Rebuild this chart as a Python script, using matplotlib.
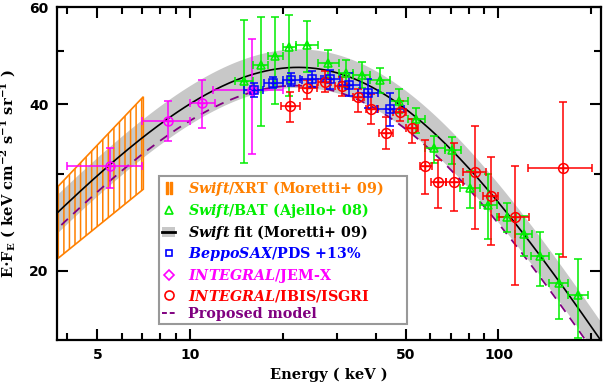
import numpy as np
import matplotlib
matplotlib.use('Agg')
import matplotlib.pyplot as plt
from matplotlib.lines import Line2D
from matplotlib.patches import Patch, Polygon

plt.rcParams['mathtext.fontset'] = 'custom'
plt.rcParams['mathtext.rm'] = 'DejaVu Serif:bold'
plt.rcParams['mathtext.it'] = 'DejaVu Serif:italic:bold'
plt.rcParams['mathtext.bf'] = 'DejaVu Serif:bold'
plt.rcParams['hatch.linewidth'] = 1.1

# INTEGRAL / JEM-X
jem_e = [5.5, 8.5, 10.9, 15.9]
jem_e_lo = [4.0, 7.0, 10.0, 11.9]
jem_e_hi = [7.0, 10.0, 12.0, 20.0]
jem_f = [30.9, 37.4, 40.2, 42.5]
jem_f_lo = [28.3, 34.3, 36.3, 32.6]
jem_f_hi = [33.4, 40.5, 44.2, 52.5]

# BeppoSAX / PDS (+13%)
pds_e = [16.1, 18.6, 21.3, 24.8, 28.5, 32.8, 37.8, 44.6]
pds_e_lo = [15.0, 17.3, 20.0, 22.7, 26.5, 30.4, 35.0, 40.4]
pds_e_hi = [17.2, 20.0, 23.0, 26.9, 30.7, 35.5, 40.7, 49.3]
pds_f = [42.5, 43.7, 44.3, 44.5, 44.5, 43.4, 42.0, 39.3]
pds_f_lo = [41.3, 42.8, 43.1, 43.0, 42.7, 41.4, 39.4, 36.5]
pds_f_hi = [43.7, 44.8, 45.6, 45.9, 46.2, 45.5, 44.5, 42.0]

# Swift / BAT
bat_e = [15.0, 17.0, 18.9, 21.0, 24.0, 28.0, 32.1, 36.0, 41.2, 47.6,
         54.2, 61.9, 70.7, 81.0, 92.6, 106.4, 120.8, 136.7, 156.7, 180.6]
bat_e_lo = [14.0, 16.0, 17.9, 20.0, 22.0, 26.0, 30.4, 33.8, 38.2, 44.5,
            50.9, 57.6, 66.9, 75.2, 86.8, 98.7, 113.5, 127.6, 146.2, 167.6]
bat_e_hi = [16.0, 17.9, 20.0, 22.0, 26.0, 30.4, 33.8, 38.2, 44.6, 50.9,
            57.6, 66.9, 75.8, 87.3, 98.7, 114.1, 128.5, 146.2, 167.6, 194.5]
bat_f = [44.1, 47.1, 49.0, 50.8, 51.3, 47.5, 45.6, 45.3, 44.3, 40.5,
         37.6, 33.4, 33.1, 28.2, 26.3, 25.0, 23.3, 21.3, 19.0, 18.1]
bat_f_lo = [31.3, 36.5, 40.1, 41.4, 45.7, 44.6, 43.0, 42.8, 42.0, 38.6,
            35.5, 31.4, 31.2, 26.0, 22.8, 23.5, 21.3, 18.8, 16.4, 15.1]
bat_f_hi = [56.9, 57.5, 57.5, 58.0, 56.5, 50.2, 48.2, 47.8, 46.5, 42.7,
            39.4, 35.0, 34.9, 30.3, 29.9, 26.5, 25.1, 23.5, 21.5, 21.0]

# INTEGRAL / IBIS / ISGRI
isg_e = [21.1, 24.0, 27.3, 31.0, 35.1, 38.7, 43.1, 47.8, 52.5, 57.8,
         63.6, 71.7, 83.6, 94.7, 112.7, 162.3]
isg_e_lo = [19.7, 22.6, 25.9, 29.5, 33.7, 37.1, 41.0, 45.5, 50.3, 55.5,
            60.6, 67.7, 76.7, 89.0, 100.2, 124.4]
isg_e_hi = [22.7, 25.7, 28.7, 32.5, 36.7, 40.7, 45.5, 50.0, 54.8, 61.0,
            67.4, 76.7, 91.2, 99.5, 126.0, 201.0]
isg_f = [39.7, 42.8, 43.9, 43.1, 41.2, 39.3, 35.5, 38.7, 36.3, 31.0,
         29.0, 29.0, 30.2, 27.3, 25.0, 30.7]
isg_f_lo = [37.1, 40.9, 42.2, 41.5, 38.8, 36.8, 33.2, 37.3, 34.0, 27.5,
            26.0, 25.7, 23.8, 22.3, 18.9, 21.2]
isg_f_hi = [42.2, 44.3, 45.9, 44.8, 42.7, 41.7, 38.0, 40.5, 37.6, 34.5,
            31.8, 34.1, 36.5, 32.1, 30.9, 40.4]

# Swift / XRT bow-tie
xrt_e = [3.7, 7.05]
xrt_lo = [21.0, 28.1]
xrt_hi = [28.3, 41.3]

# Swift fit (Moretti+ 09) and proposed model, smoothly broken power law
fit_norm, fit_eb, fit_g1, fit_g2 = 0.109, 29.0, 1.40, 2.88
fit_band = 0.08
prop_norm, prop_eb = 0.1046, 28.5

ORANGE = '#ff8000'
GREEN = '#00ee00'
BLUE = '#0000ff'
MAGENTA = '#ff00ff'
RED = '#ff0000'
PURPLE = '#800080'
GRAY = '#c8c8c8'


def cxb(e, norm, eb, g1, g2):
    return e ** 2 * norm / ((e / eb) ** g1 + (e / eb) ** g2)


def points(ax, e, elo, ehi, f, flo, fhi, color, marker, ms):
    e = np.array(e); f = np.array(f)
    xerr = [e - np.array(elo), np.array(ehi) - e]
    yerr = [f - np.array(flo), np.array(fhi) - f]
    ax.errorbar(e, f, xerr=xerr, yerr=yerr, fmt=marker, ms=ms, mfc='none',
                mec=color, mew=1.1, color=color, elinewidth=1.1,
                capsize=2.6, capthick=1.1, zorder=5)
    # small cross inside the marker, like the original
    ax.plot(e, f, ls='none', marker='+', ms=ms * 0.9, mew=1.0, color=color, zorder=6)


def main():
    fig = plt.figure(figsize=(6.03, 3.87), dpi=100)
    ax = fig.add_axes([0.0945, 0.1214, 0.9022, 0.8605])
    ax.set_xscale('log')
    ax.set_yscale('log')

    en = np.logspace(np.log10(3.5), np.log10(230), 300)
    fit = cxb(en, fit_norm, fit_eb, fit_g1, fit_g2)
    prop = cxb(en, prop_norm, prop_eb, fit_g1, fit_g2)

    ax.fill_between(en, fit * (1 - fit_band), fit * (1 + fit_band),
                    color=GRAY, lw=0, zorder=1)

    verts = [(xrt_e[0], xrt_lo[0]), (xrt_e[1], xrt_lo[1]),
             (xrt_e[1], xrt_hi[1]), (xrt_e[0], xrt_hi[0])]
    ax.add_patch(Polygon(verts, closed=True, facecolor='none', edgecolor=ORANGE,
                         hatch='|||', lw=1.2, zorder=2))

    ax.plot(en, fit, color='black', lw=1.2, zorder=3)
    ax.plot(en, prop, color=PURPLE, lw=1.3, dashes=(5, 4), zorder=3)

    points(ax, jem_e, jem_e_lo, jem_e_hi, jem_f, jem_f_lo, jem_f_hi, MAGENTA, 'o', 6.5)
    points(ax, bat_e, bat_e_lo, bat_e_hi, bat_f, bat_f_lo, bat_f_hi, GREEN, '^', 6)
    points(ax, isg_e, isg_e_lo, isg_e_hi, isg_f, isg_f_lo, isg_f_hi, RED, 'o', 7)
    points(ax, pds_e, pds_e_lo, pds_e_hi, pds_f, pds_f_lo, pds_f_hi, BLUE, 's', 5.5)

    ax.set_xlim(3.7, 215)
    ax.set_ylim(15, 60)

    ax.set_xticks([5, 10, 50, 100])
    ax.set_xticklabels(['5', '10', '50', '100'])
    ax.set_xticks([4, 6, 7, 8, 9, 20, 30, 40, 60, 70, 80, 90, 200], minor=True)
    ax.set_yticks([20, 40, 60])
    ax.set_yticklabels(['20', '40', '60'])
    ax.set_yticks([30, 50], minor=True)
    ax.yaxis.set_minor_formatter(plt.NullFormatter())
    ax.xaxis.set_minor_formatter(plt.NullFormatter())
    ax.tick_params(which='both', direction='in', top=True, right=True, width=1.5)
    ax.tick_params(which='major', length=8, labelsize=10, pad=6)
    ax.tick_params(which='minor', length=5)
    for lab in ax.get_xticklabels() + ax.get_yticklabels():
        lab.set_fontweight('bold')
    for sp in ax.spines.values():
        sp.set_linewidth(1.6)

    ax.set_xlabel('Energy ( keV )', family='DejaVu Serif', weight='bold', fontsize=10.5, labelpad=4)
    ax.set_ylabel(r'E$\cdot$F$_{\rm E}$ ( keV cm$^{-2}$ s$^{-1}$ sr$^{-1}$ )',
                  family='DejaVu Serif', weight='bold', fontsize=10.5, labelpad=8)

    handles = [
        Line2D([], [], ls='none', marker='$||$', ms=8, color=ORANGE),
        Line2D([], [], ls='none', marker='^', ms=5.5, mfc='none', mec=GREEN, mew=1.2),
        (Patch(fc=GRAY, ec='none'), Line2D([], [], color='black', lw=2)),
        Line2D([], [], ls='none', marker='s', ms=5, mfc='none', mec=BLUE, mew=1.2),
        Line2D([], [], ls='none', marker='D', ms=5, mfc='none', mec=MAGENTA, mew=1.2),
        Line2D([], [], ls='none', marker='o', ms=6.5, mfc='none', mec=RED, mew=1.2),
        Line2D([], [], color=PURPLE, lw=1.4, dashes=(2.5, 1.5)),
    ]
    labels = [
        r'$\mathit{Swift}$/XRT (Moretti+ 09)',
        r'$\mathit{Swift}$/BAT (Ajello+ 08)',
        r'$\mathit{Swift}$ fit (Moretti+ 09)',
        r'$\mathit{BeppoSAX}$/PDS +13%',
        r'$\mathit{INTEGRAL}$/JEM-X',
        r'$\mathit{INTEGRAL}$/IBIS/ISGRI',
        'Proposed model',
    ]
    leg = ax.legend(handles, labels, loc='lower left',
                    bbox_to_anchor=(0.1875, 0.048, 0.4558, 0.44), mode='expand',
                    borderaxespad=0, handlelength=0.9, handletextpad=0.9,
                    labelspacing=0.22, borderpad=0.22, fancybox=False, framealpha=1,
                    prop={'family': 'DejaVu Serif', 'weight': 'bold', 'size': 10.3},
                    labelcolor=[ORANGE, GREEN, 'black', BLUE, MAGENTA, RED, PURPLE])
    leg.get_frame().set_edgecolor('#999999')
    leg.get_frame().set_linewidth(1.5)
    leg.set_zorder(10)

    fig.savefig('out.png', dpi=100)


if __name__ == '__main__':
    main()
